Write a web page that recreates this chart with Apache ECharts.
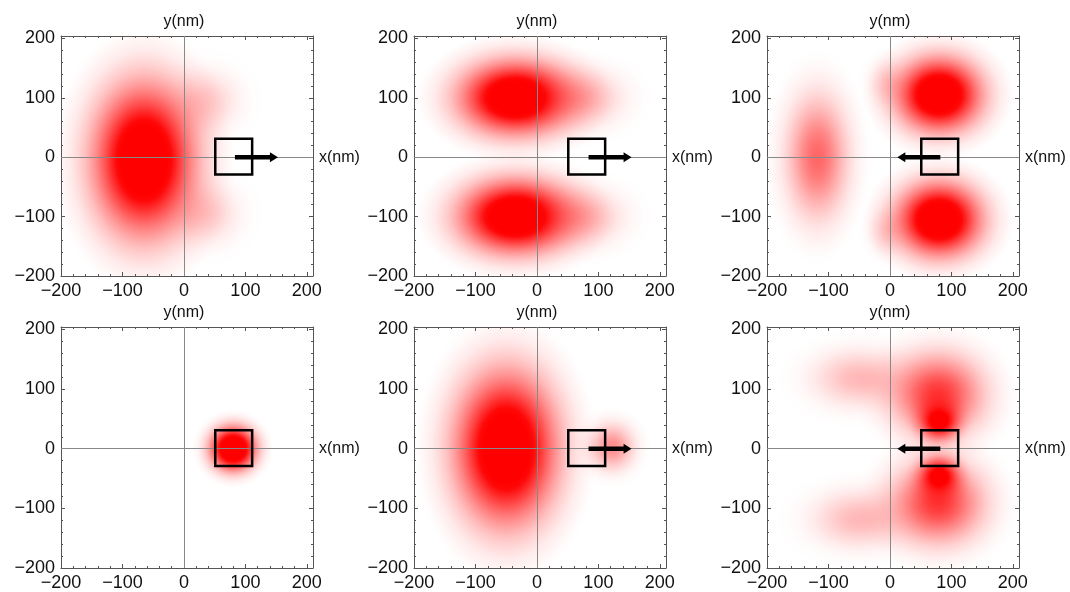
<!DOCTYPE html>
<html><head><meta charset="utf-8">
<script src="https://cdn.jsdelivr.net/npm/echarts@6/dist/echarts.min.js"></script>
<style>html,body{margin:0;padding:0;background:#fff}#c{width:1070px;height:592px}</style>
</head><body><div id="c"></div>
<script>
// ---------- data (nm) ----------
const xRange = [-200, 210];
const yRange = [-200, 204];
const majorStep = 100;
const minorStep = 20;
const xAxisName = 'x(nm)';
const yAxisName = 'y(nm)';

// intensity blobs: [centerX, centerY, radiusX, radiusY, peak]
const blobsTopLeft = [[-65, -5, 150, 230, 1.4], [35, 95, 95, 90, 0.2], [35, -95, 95, 90, 0.2]];
const blobsTopMid = [[-35, 100, 164, 112, 1.4], [70, 100, 120, 85, 0.3], [-35, -100, 164, 112, 1.4], [70, -100, 120, 85, 0.3]];
const blobsTopRight = [[-118, 0, 90, 185, 0.6], [80, 105, 125, 112, 1.4], [80, -105, 125, 112, 1.4], [-5, 125, 50, 65, 0.16], [-5, -125, 50, 65, 0.16]];
const blobsBottomLeft = [[80, 0, 66, 66, 1.55]];
const blobsBottomMid = [[-50, 0, 150, 230, 1.4], [122, 3, 65, 70, 0.45]];
const blobsBottomRight = [[80, 48, 55, 55, 1.3], [78, 90, 135, 125, 0.8], [-50, 118, 135, 85, 0.28],
                          [80, -48, 55, 55, 1.3], [78, -90, 135, 125, 0.8], [-50, -118, 135, 85, 0.28]];

// particle box: [x0, y0, x1, y1]
const boxRect = [51, -29, 111, 31];
// arrows: [xStart, xEnd, y]
const arrowTopLeft = [83, 153, 0];
const arrowTopMid = [84, 154, 0];
const arrowTopRight = [82, 12, 0];
const arrowBottomMid = [84, 154, 0];
const arrowBottomRight = [82, 12, 0];

const panels = [
  {blobs: blobsTopLeft, arrow: arrowTopLeft},
  {blobs: blobsTopMid, arrow: arrowTopMid},
  {blobs: blobsTopRight, arrow: arrowTopRight},
  {blobs: blobsBottomLeft, arrow: null},
  {blobs: blobsBottomMid, arrow: arrowBottomMid},
  {blobs: blobsBottomRight, arrow: arrowBottomRight}
];

// ---------- layout / style ----------
const LEFTS = [61, 414, 767];
const TOPS = [36, 327];
const W = 252;
const HS = [240, 241];
const FONT = "'Liberation Sans', Arial, sans-serif";
const FRAME = '#555';

function fmt(v) {
  if (v % majorStep !== 0) return '';
  return v < 0 ? '\u2212' + Math.abs(v) : String(v);
}
function blobFill(peak) {
  const stops = [];
  const e = Math.exp(-4);
  for (let i = 0; i <= 20; i++) {
    const t = i / 20;
    const g = (Math.exp(-4 * t * t) - e) / (1 - e);
    const a = Math.min(1, peak * g);
    stops.push({offset: t, color: 'rgba(255,0,0,' + a.toFixed(3) + ')'});
  }
  return {type: 'radial', x: 0.5, y: 0.5, r: 0.5, colorStops: stops};
}

const grid = [], xAxis = [], yAxis = [], series = [];

panels.forEach((p, gi) => {
  const col = gi % 3, row = Math.floor(gi / 3);
  grid.push({left: LEFTS[col], top: TOPS[row], width: W, height: HS[row], containLabel: false, outerBoundsMode: 'none'});
  const base = {gridIndex: gi, type: 'value', splitLine: {show: false}};
  const mk = (dimRange, pos, major, labels) => Object.assign({}, base, {
    position: pos, min: dimRange[0], max: dimRange[1],
    interval: major ? majorStep : minorStep,
    axisLine: {show: major, onZero: false, lineStyle: {color: FRAME, width: 1}},
    axisTick: {show: true, inside: true, length: major ? 4 : 2, lineStyle: {color: FRAME, width: 1}},
    minorTick: {show: false},
    axisLabel: labels ? {show: true, formatter: fmt, color: '#111', fontSize: 18, fontFamily: FONT, margin: 6, showMinLabel: true, showMaxLabel: true, hideOverlap: false}
                      : {show: false}
  });
  xAxis.push(mk(xRange, 'bottom', true, true), mk(xRange, 'bottom', false, false), mk(xRange, 'top', true, false), mk(xRange, 'top', false, false));
  yAxis.push(mk(yRange, 'left', true, true), mk(yRange, 'left', false, false), mk(yRange, 'right', true, false), mk(yRange, 'right', false, false));
  const xi = gi * 4, yi = gi * 4;

  series.push({
    type: 'custom', xAxisIndex: xi, yAxisIndex: yi, clip: true, silent: true, z: 1,
    data: p.blobs, encode: {x: 0, y: 1},
    renderItem: (params, api) => {
      const cx = api.value(0), cy = api.value(1);
      const c = api.coord([cx, cy]);
      const s = api.size([api.value(2), api.value(3)], [cx, cy]);
      return {type: 'circle', x: c[0], y: c[1], scaleX: s[0] / s[1], shape: {cx: 0, cy: 0, r: s[1]},
              style: {fill: blobFill(api.value(4))}};
    }
  });

  series.push({
    type: 'custom', xAxisIndex: xi, yAxisIndex: yi, silent: true, z: 3,
    data: [boxRect], encode: {x: [0, 2], y: [1, 3]},
    renderItem: (params, api) => {
      const a = api.coord([api.value(0), api.value(1)]);
      const b = api.coord([api.value(2), api.value(3)]);
      return {type: 'rect', shape: {x: Math.min(a[0], b[0]), y: Math.min(a[1], b[1]), width: Math.abs(b[0] - a[0]), height: Math.abs(b[1] - a[1])},
              style: {fill: 'none', stroke: '#000', lineWidth: 2.5}};
    },
    markLine: {
      silent: true, symbol: ['none', 'none'], animation: false, z: 2,
      lineStyle: {color: '#888', width: 1, type: 'solid'},
      label: {show: true, position: 'end', distance: 6, color: '#111', fontSize: 16, fontFamily: FONT},
      data: [
        {xAxis: 0, label: {formatter: yAxisName}},
        {yAxis: 0, label: {formatter: xAxisName}}
      ]
    }
  });

  if (p.arrow) {
    series.push({
      type: 'custom', xAxisIndex: xi, yAxisIndex: yi, silent: true, z: 4,
      data: [p.arrow], encode: {x: [0, 1], y: 2},
      renderItem: (params, api) => {
        const y = api.value(2);
        const p0 = api.coord([api.value(0), y]);
        const p1 = api.coord([api.value(1), y]);
        const dir = Math.sign(p1[0] - p0[0]);
        const headLen = 8, headW = 5;
        const sEnd = p1[0] - dir * headLen;
        return {type: 'group', children: [
          {type: 'line', shape: {x1: p0[0], y1: p0[1], x2: sEnd + dir, y2: p1[1]}, style: {stroke: '#000', lineWidth: 4.5}},
          {type: 'polygon', shape: {points: [[p1[0], p1[1]], [sEnd, p1[1] - headW], [sEnd, p1[1] + headW]]}, style: {fill: '#000'}}
        ]};
      }
    });
  }
});

const chart = echarts.init(document.getElementById('c'), null, {renderer: 'canvas'});
chart.setOption({animation: false, backgroundColor: '#fff', grid, xAxis, yAxis, series});
</script>
</body></html>
